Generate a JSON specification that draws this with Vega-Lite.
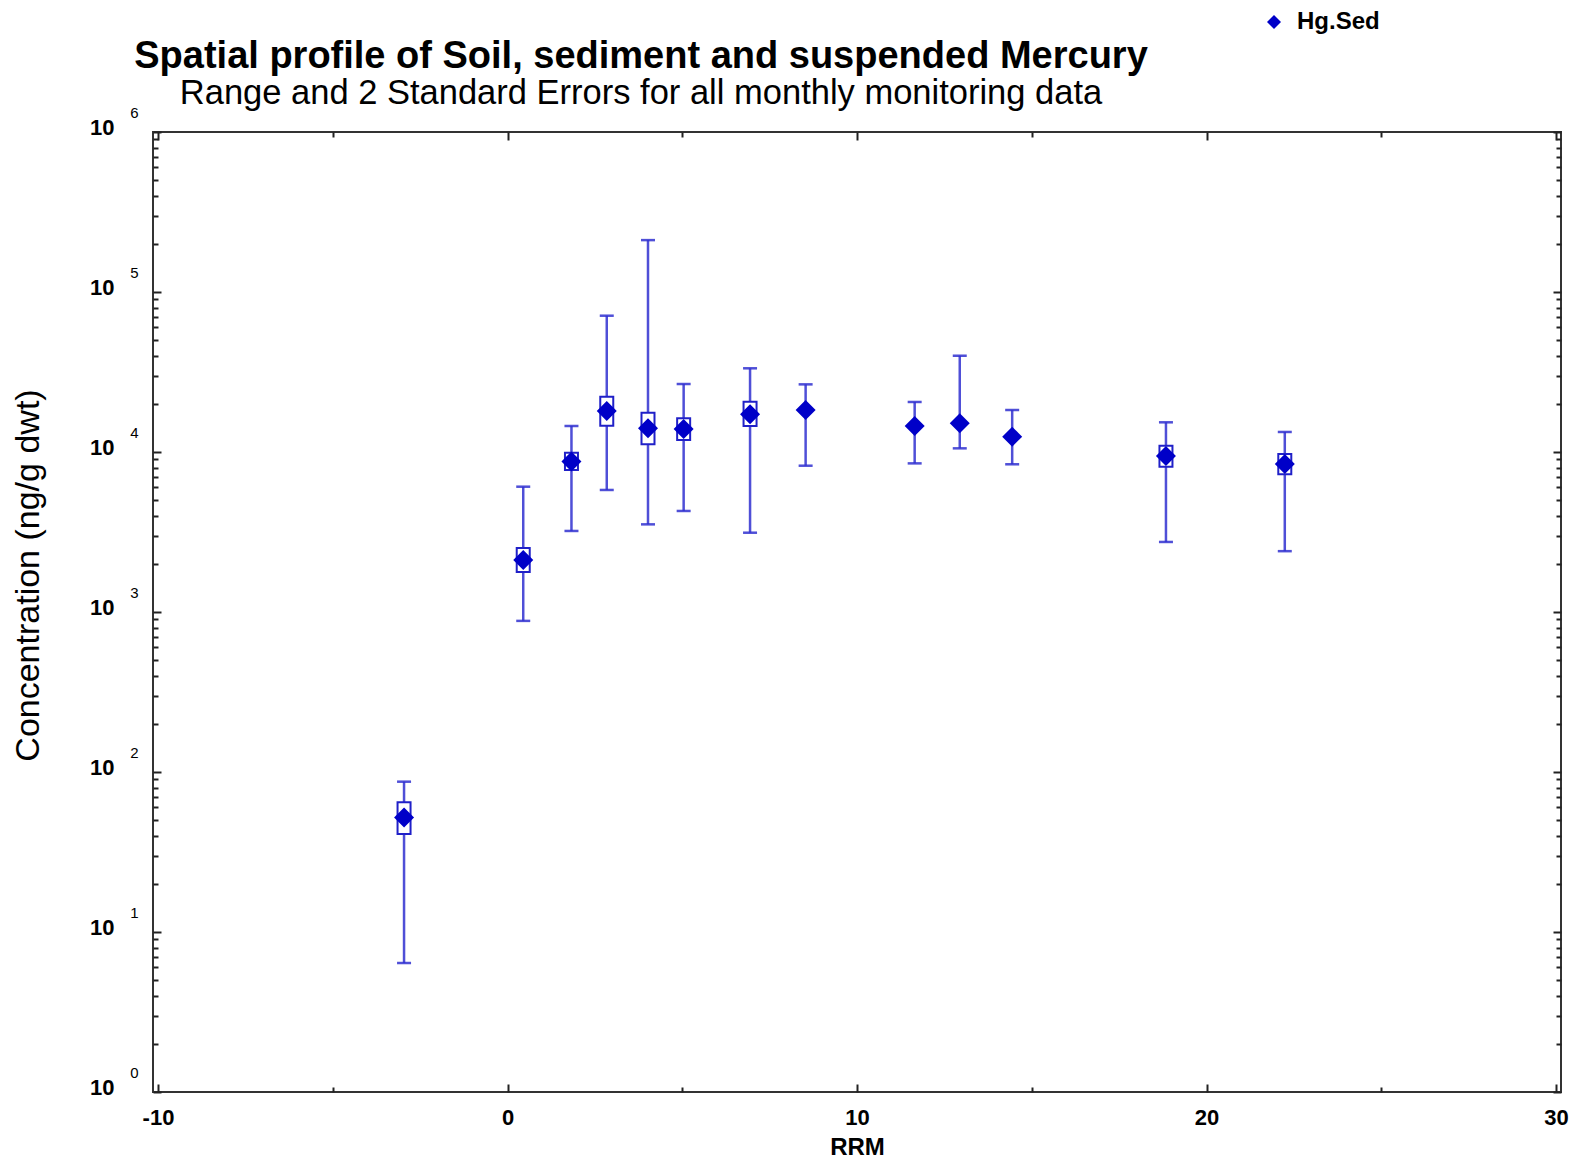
{
  "$schema": "https://vega.github.io/schema/vega-lite/v6.json",
  "width": 1408,
  "height": 960,
  "autosize": "none",
  "padding": {"left": 153, "top": 132, "right": 20, "bottom": 72},
  "background": "white",
  "config": {
    "view": {"stroke": "#333333", "strokeWidth": 2},
    "font": "Liberation Sans",
    "axis": {"grid": false, "domain": false, "labelColor": "black", "titleColor": "black", "tickColor": "#222222", "tickWidth": 2}
  },
  "title": {
    "text": "Spatial profile of Soil, sediment and suspended Mercury",
    "subtitle": "Range and 2 Standard Errors for all monthly monitoring data",
    "anchor": "middle",
    "dx": -216,
    "dy": 126,
    "fontSize": 38,
    "fontWeight": "bold",
    "color": "black",
    "subtitleFontSize": 34.5,
    "subtitleColor": "black",
    "subtitleFont": "Liberation Sans",
    "subtitlePadding": 1,
    "offset": 26
  },
  "data": {
    "values": [
      {"rrm": -2.96, "mean": 52, "lo": 6.4, "hi": 87, "blo": 41, "bhi": 64.6},
      {"rrm": 0.45, "mean": 2110, "lo": 880, "hi": 6070, "blo": 1780, "bhi": 2510},
      {"rrm": 1.83, "mean": 8710, "lo": 3210, "hi": 14540, "blo": 7720, "bhi": 9910},
      {"rrm": 2.84, "mean": 18030, "lo": 5790, "hi": 71100, "blo": 14590, "bhi": 22180},
      {"rrm": 4.02, "mean": 14060, "lo": 3530, "hi": 211000, "blo": 11170, "bhi": 17620},
      {"rrm": 5.04, "mean": 13930, "lo": 4280, "hi": 26600, "blo": 11890, "bhi": 16250},
      {"rrm": 6.94, "mean": 17190, "lo": 3130, "hi": 33350, "blo": 14540, "bhi": 20620},
      {"rrm": 8.53, "mean": 18300, "lo": 8210, "hi": 26470, "blo": null, "bhi": null},
      {"rrm": 11.65, "mean": 14540, "lo": 8490, "hi": 20540, "blo": null, "bhi": null},
      {"rrm": 12.94, "mean": 15100, "lo": 10540, "hi": 39960, "blo": null, "bhi": null},
      {"rrm": 14.44, "mean": 12470, "lo": 8380, "hi": 18300, "blo": null, "bhi": null},
      {"rrm": 18.84, "mean": 9440, "lo": 2740, "hi": 15330, "blo": 8090, "bhi": 10960},
      {"rrm": 22.24, "mean": 8410, "lo": 2400, "hi": 13340, "blo": 7260, "bhi": 9720}
    ]
  },
  "resolve": {"axis": {"x": "independent", "y": "independent"}},
  "layer": [
    {
      "mark": {"type": "rule", "color": "#3030d0", "strokeWidth": 2.5, "opacity": 0.85},
      "encoding": {
        "x": {
          "field": "rrm", "type": "quantitative",
          "scale": {"domain": [-10, 30], "nice": false, "zero": false},
          "axis": {
            "orient": "bottom", "values": [-10, 0, 10, 20, 30], "labelExpr": "'' + datum.value",
            "tickSize": -8, "labelPadding": 23,
            "labelFontSize": 22, "labelFontWeight": "bold", "labelFlush": false,
            "title": "RRM", "titleFontSize": 24, "titleFontWeight": "bold",
            "titleBaseline": "middle", "titleY": 55
          }
        },
        "y": {
          "field": "lo", "type": "quantitative",
          "scale": {"type": "log", "domain": [1, 1000000], "nice": false},
          "axis": {
            "orient": "left", "values": [1, 10, 100, 1000, 10000, 100000, 1000000],
            "labelExpr": "'10'", "tickSize": -8, "labelPadding": 47, "labelOffset": -5,
            "labelFontSize": 22, "labelFontWeight": "bold", "labelFlush": false,
            "title": "Concentration (ng/g dwt)", "titleFontSize": 34, "titleFontWeight": "normal",
            "titleAngle": -90, "titleAlign": "center", "titleBaseline": "middle",
            "titleX": -125, "titleY": 443
          }
        },
        "y2": {"field": "hi"}
      }
    },
    {
      "mark": {"type": "tick", "orient": "horizontal", "color": "#3030d0", "size": 14, "thickness": 2.5, "opacity": 0.85},
      "encoding": {
        "x": {
          "field": "rrm", "type": "quantitative",
          "axis": {"orient": "bottom", "values": [-5, 5, 15, 25], "tickSize": -5, "labels": false, "title": null}
        },
        "y": {
          "field": "hi", "type": "quantitative",
          "axis": {
            "orient": "left", "values": [1, 10, 100, 1000, 10000, 100000, 1000000],
            "labelExpr": "format(round(log(datum.value)/LN10), 'd')",
            "ticks": false, "labelPadding": 15, "labelOffset": -20,
            "labelFontSize": 15, "labelFlush": false, "title": null
          }
        }
      }
    },
    {
      "mark": {"type": "tick", "orient": "horizontal", "color": "#3030d0", "size": 14, "thickness": 2.5, "opacity": 0.85},
      "encoding": {
        "x": {
          "field": "rrm", "type": "quantitative",
          "axis": {"orient": "top", "values": [-10, 0, 10, 20, 30], "tickSize": -8, "labels": false, "title": null}
        },
        "y": {
          "field": "lo", "type": "quantitative",
          "axis": {
            "orient": "left",
            "values": [2,3,4,5,6,7,8,9,20,30,40,50,60,70,80,90,200,300,400,500,600,700,800,900,2000,3000,4000,5000,6000,7000,8000,9000,20000,30000,40000,50000,60000,70000,80000,90000,200000,300000,400000,500000,600000,700000,800000,900000],
            "tickSize": -5, "labels": false, "title": null
          }
        }
      }
    },
    {
      "mark": {"type": "bar", "width": 13, "fill": "white", "stroke": "#2020c8", "strokeWidth": 2},
      "encoding": {
        "x": {
          "field": "rrm", "type": "quantitative",
          "axis": {"orient": "top", "values": [-5, 5, 15, 25], "tickSize": -5, "labels": false, "title": null}
        },
        "y": {
          "field": "blo", "type": "quantitative",
          "axis": {"orient": "right", "values": [1, 10, 100, 1000, 10000, 100000, 1000000], "tickSize": -8, "labels": false, "title": null}
        },
        "y2": {"field": "bhi"}
      }
    },
    {
      "mark": {"type": "point", "shape": "diamond", "filled": true, "size": 400, "opacity": 1},
      "encoding": {
        "x": {"field": "rrm", "type": "quantitative", "axis": null},
        "y": {
          "field": "mean", "type": "quantitative",
          "axis": {
            "orient": "right",
            "values": [2,3,4,5,6,7,8,9,20,30,40,50,60,70,80,90,200,300,400,500,600,700,800,900,2000,3000,4000,5000,6000,7000,8000,9000,20000,30000,40000,50000,60000,70000,80000,90000,200000,300000,400000,500000,600000,700000,800000,900000],
            "tickSize": -5, "labels": false, "title": null
          }
        },
        "color": {
          "datum": "Hg.Sed",
          "scale": {"range": ["#0000c8"]},
          "legend": {
            "orient": "none", "legendX": 1109, "legendY": -122, "title": null,
            "symbolType": "diamond", "symbolSize": 196, "symbolStrokeWidth": 0,
            "labelFontSize": 24, "labelFontWeight": "bold", "labelColor": "black", "labelOffset": 11, "padding": 0
          }
        }
      }
    }
  ]
}
